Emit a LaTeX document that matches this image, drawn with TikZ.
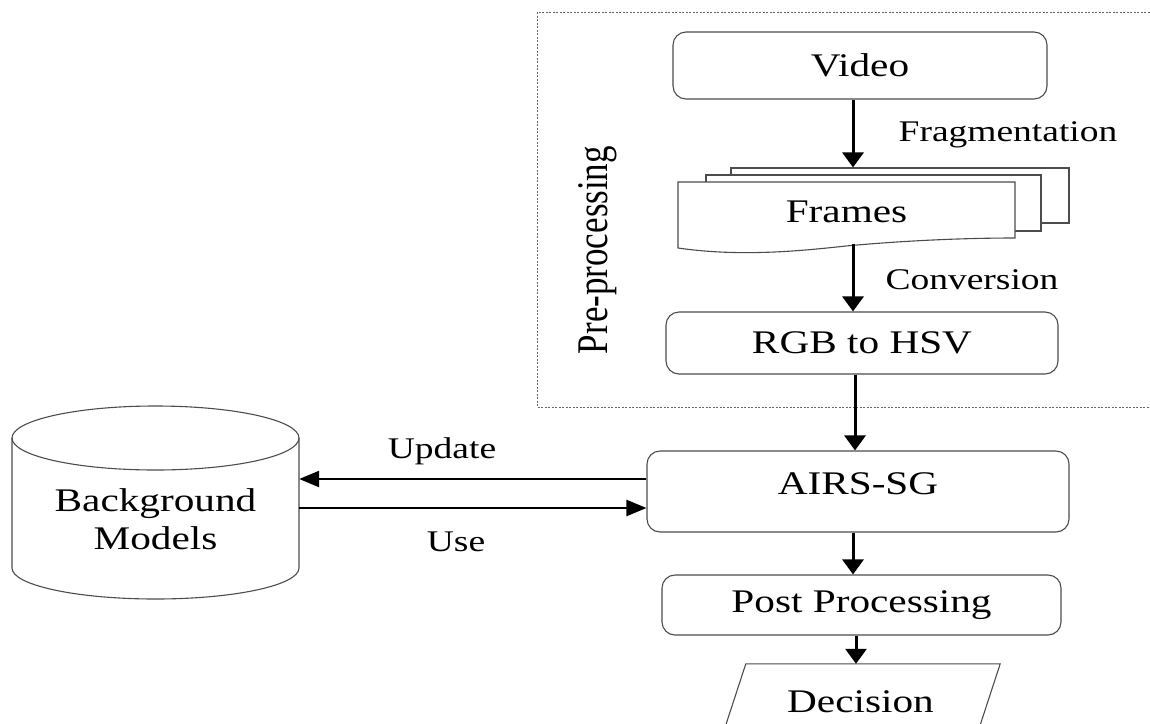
\documentclass[tikz,border=0pt]{standalone}
\usepackage{graphicx}
\usepackage{fontspec}
\setmainfont{Liberation Serif}
\usetikzlibrary{arrows.meta}
% text is set slightly wide
\newcommand{\stretchtxt}[1]{\scalebox{1.25}[1]{#1}}
\begin{document}
\begin{tikzpicture}[x=1pt, y=-1pt,
  box/.style={draw=black!70, line width=1.1pt, rounded corners=13pt, fill=white, inner sep=0pt},
  sheet/.style={draw=black!70, line width=1.1pt, fill=white},
  bigtxt/.style={font=\fontsize{33}{38}\selectfont},
  lbl/.style={font=\fontsize{30}{34}\selectfont, inner sep=0pt},
  vflow/.style={line width=3pt, -{Triangle[length=15pt, width=21pt]}},
  hflow/.style={line width=2.4pt, -{Triangle[length=20pt, width=16pt]}},
]
\useasboundingbox (0,0) rectangle (1150,723);
\clip (0,0) rectangle (1150,723);

% pre-processing group frame
\draw[black!60, line width=0.8pt, dash pattern=on 2pt off 1.5pt]
  (1160,12) -- (537,12) -- (537,407) -- (1160,407);
\node[font=\fontsize{35}{40}\selectfont, inner sep=0pt] (pre) at (598,250)
  {\scalebox{1.25}[1]{\rotatebox{90}{Pre-processing}}};

% video source
\node[box, bigtxt, minimum width=374pt, minimum height=67pt] (video) at (860,65.5) {\stretchtxt{Video}};

% stack of frames
\node[sheet, minimum width=338pt, minimum height=55pt, inner sep=0pt] (sheetC) at (900,195.5) {};
\node[sheet, minimum width=335pt, minimum height=56pt, inner sep=0pt] (sheetB) at (873.5,203) {};
\draw[sheet] (678,182) -- (1015,182) -- (1015,238)
  .. controls (960,238) and (900,241) .. (846,246)
  .. controls (800,251) and (740,257) .. (678,248) -- cycle;
\node[bigtxt, inner sep=0pt] (frames) at (846.5,212) {\stretchtxt{Frames}};
\coordinate (framesfoot) at (853,244);

% colour conversion
\node[box, bigtxt, minimum width=392pt, minimum height=62pt] (rgb) at (862,343) {\stretchtxt{RGB to HSV}};

% detector
\node[box, minimum width=422pt, minimum height=81pt] (airs) at (858,491.5) {};
\node[bigtxt, inner sep=0pt] (airslbl) at (858,484) {\stretchtxt{AIRS-SG}};

% post processing
\node[box, bigtxt, minimum width=399pt, minimum height=60pt] (post) at (861.5,605) {\stretchtxt{Post Processing}};

% decision (parallelogram)
\node[bigtxt, minimum width=279pt, minimum height=76pt, inner sep=0pt] (dec) at (860.5,702) {\stretchtxt{Decision}};
\draw[sheet, fill=none] ([xshift=25pt]dec.north west) -- (dec.north east)
  -- ([xshift=-25pt]dec.south east) -- (dec.south west) -- cycle;

% background model store (cylinder)
\draw[draw=black!70, line width=1.1pt] (12,438) -- (12,568)
  arc[start angle=180, end angle=360, x radius=143.5pt, y radius=31pt] -- (299,438);
\draw[draw=black!70, line width=1.1pt] (155.5,438) ellipse [x radius=143.5pt, y radius=32pt];
\node[bigtxt, align=center, inner sep=0pt, minimum width=287pt] (bg) at (155.5,519)
  {\stretchtxt{Background}\\\stretchtxt{Models}};

% flow
\draw[vflow] ([xshift=-7pt]video.south) -- ([xshift=-7pt]video.south |- sheetC.north);
\draw[vflow] (framesfoot) -- (framesfoot |- rgb.north);
\draw[vflow] ([xshift=-7pt]rgb.south) -- ([xshift=-7pt]rgb.south |- airs.north);
\draw[vflow] ([xshift=-5pt]airs.south) -- ([xshift=-5pt]airs.south |- post.north);
\draw[vflow] ([xshift=-5.5pt]post.south) -- ([xshift=-5.5pt]post.south |- dec.north);
\draw[hflow] ([yshift=12.5pt]airs.west) -- ([yshift=12.5pt]airs.west -| bg.east);
\draw[hflow] ([yshift=-16.5pt]airs.west -| bg.east) -- ([yshift=-16.5pt]airs.west);

% connector labels
\node[lbl] (frag) at (1008,135) {\stretchtxt{Fragmentation}};
\node[lbl] (conv) at (972,280) {\stretchtxt{Conversion}};
\node[lbl] (upd) at (442,451) {\stretchtxt{Update}};
\node[lbl] (use) at (456,542) {\stretchtxt{Use}};
\end{tikzpicture}
\end{document}
